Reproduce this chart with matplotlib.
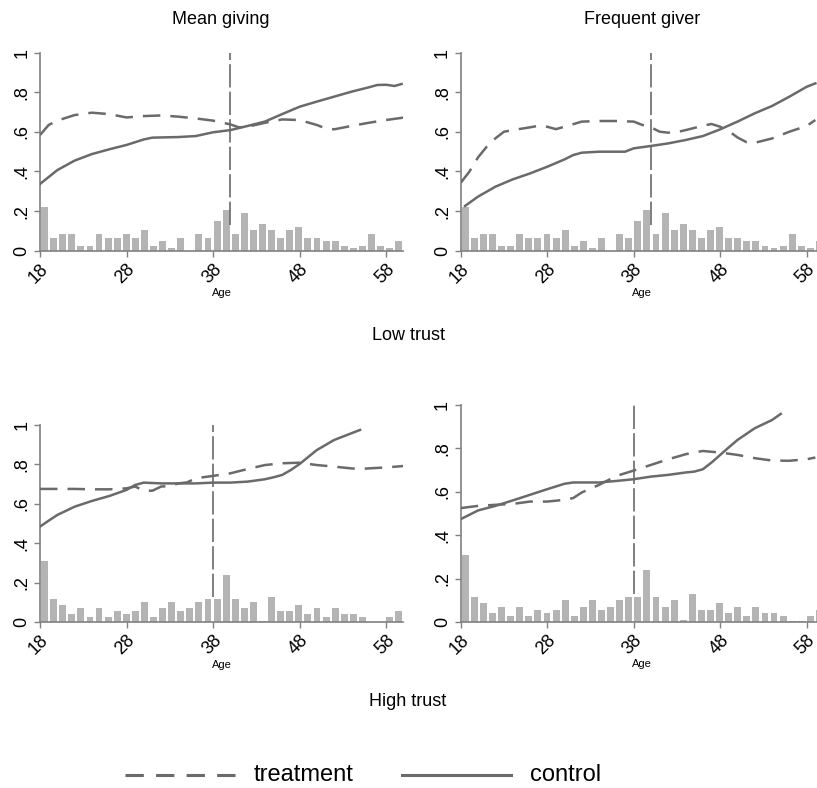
import matplotlib.pyplot as plt
import numpy as np

plt.rcParams['font.family'] = ['Liberation Sans', 'DejaVu Sans']

# age histogram (40 bins over 18-60), share of sample
hist_low = [0.222, 0.066, 0.084, 0.084, 0.025, 0.025, 0.084, 0.066, 0.066, 0.084,
            0.066, 0.103, 0.025, 0.05, 0.015, 0.066, 0.0, 0.084, 0.066, 0.152,
            0.204, 0.084, 0.19, 0.103, 0.135, 0.103, 0.066, 0.103, 0.118, 0.066,
            0.066, 0.05, 0.05, 0.025, 0.015, 0.025, 0.084, 0.025, 0.015, 0.05]
hist_high = [0.31, 0.117, 0.086, 0.042, 0.071, 0.027, 0.071, 0.027, 0.057, 0.042,
             0.057, 0.103, 0.027, 0.071, 0.103, 0.057, 0.071, 0.103, 0.117, 0.117,
             0.24, 0.117, 0.071, 0.103, 0.008, 0.13, 0.057, 0.057, 0.086, 0.042,
             0.071, 0.027, 0.071, 0.042, 0.042, 0.027, 0.003, 0.003, 0.027, 0.057]

# Low trust, mean giving
tl_ctrl_age = [18, 20, 22, 24, 26, 28, 30, 31, 34, 36, 38, 40, 42, 44, 46, 48, 50, 52, 54, 56, 57, 58, 59, 59.8]
tl_ctrl = [0.337, 0.407, 0.455, 0.488, 0.512, 0.534, 0.562, 0.571, 0.574, 0.579, 0.598, 0.609,
           0.63, 0.652, 0.69, 0.727, 0.753, 0.778, 0.803, 0.825, 0.837, 0.838, 0.832, 0.842]
tl_treat_age = [18, 19, 20, 22, 24, 26, 28, 30, 32, 34, 36, 38, 40, 41, 42, 44, 46, 48, 50, 51, 52, 54, 56, 58, 60]
tl_treat = [0.584, 0.635, 0.657, 0.685, 0.697, 0.69, 0.673, 0.68, 0.683, 0.677, 0.668, 0.657,
            0.638, 0.623, 0.626, 0.646, 0.663, 0.66, 0.635, 0.618, 0.613, 0.63, 0.646, 0.66, 0.672]

# Low trust, frequent giver
tr_ctrl_age = [18.5, 20, 22, 24, 26, 28, 30, 31, 32, 34, 36, 37, 38, 40, 42, 44, 46, 48, 50, 52, 54, 56, 58, 59]
tr_ctrl = [0.226, 0.273, 0.323, 0.36, 0.39, 0.424, 0.461, 0.483, 0.495, 0.5, 0.5, 0.5, 0.517,
           0.529, 0.542, 0.559, 0.579, 0.613, 0.652, 0.694, 0.731, 0.778, 0.828, 0.845]
tr_treat_age = [18, 19, 20, 21, 22, 23, 24, 26, 27, 28, 29, 30, 32, 34, 36, 38, 39, 40, 41, 42,
                43, 44, 46, 47, 48, 49, 50, 51, 52, 54, 56, 58, 59]
tr_treat = [0.343, 0.399, 0.471, 0.525, 0.567, 0.601, 0.609, 0.623, 0.631, 0.626, 0.614, 0.626,
            0.652, 0.655, 0.655, 0.652, 0.635, 0.623, 0.601, 0.596, 0.599, 0.609, 0.631, 0.64,
            0.626, 0.604, 0.572, 0.549, 0.545, 0.567, 0.601, 0.63, 0.66]

# High trust, mean giving
bl_ctrl_age = [18, 19, 20, 22, 24, 26, 28, 29, 30, 32, 34, 36, 38, 40, 42, 44, 45, 46, 47, 48, 50, 52, 54, 55]
bl_ctrl = [0.485, 0.515, 0.544, 0.586, 0.615, 0.64, 0.671, 0.696, 0.708, 0.704, 0.704, 0.704,
           0.708, 0.708, 0.713, 0.725, 0.735, 0.747, 0.772, 0.802, 0.873, 0.924, 0.958, 0.975]
bl_treat_age = [18, 20, 22, 24, 26, 28, 29, 30, 31, 32, 33, 34, 35, 36, 38, 40, 42, 44, 46, 48,
                50, 52, 54, 55, 56, 58, 60]
bl_treat = [0.676, 0.676, 0.676, 0.674, 0.674, 0.679, 0.688, 0.667, 0.667, 0.688, 0.691, 0.704,
            0.709, 0.73, 0.742, 0.755, 0.777, 0.797, 0.806, 0.809, 0.797, 0.789, 0.78, 0.777,
            0.78, 0.785, 0.792]

# High trust, frequent giver
br_ctrl_age = [18, 19, 20, 22, 24, 26, 28, 30, 31, 32, 34, 36, 38, 40, 42, 44, 45, 46, 47, 48, 49, 50, 52, 54, 55]
br_ctrl = [0.474, 0.494, 0.514, 0.535, 0.56, 0.586, 0.612, 0.637, 0.643, 0.643, 0.643, 0.65,
           0.658, 0.67, 0.678, 0.689, 0.693, 0.704, 0.735, 0.77, 0.805, 0.839, 0.893, 0.931, 0.959]
br_treat_age = [18, 20, 22, 24, 26, 28, 30, 31, 32, 34, 36, 38, 40, 42, 44, 45, 46, 48, 50, 52, 54, 56, 58, 59]
br_treat = [0.525, 0.535, 0.54, 0.544, 0.555, 0.555, 0.563, 0.571, 0.597, 0.632, 0.673, 0.698,
            0.724, 0.75, 0.773, 0.782, 0.788, 0.781, 0.77, 0.755, 0.744, 0.743, 0.75, 0.758]

cutoff = [40, 40, 38, 38]
titles = ['Mean giving', 'Frequent giver', '', '']

line_col = '#6a6a6a'
bar_col = '#b4b4b4'
axis_col = '#808080'

fig = plt.figure(figsize=(8.17, 7.88), dpi=100)
W, H = 817, 788


def make_ax(x0, y_top, y_bot, x1):
    return fig.add_axes([x0 / W, 1 - y_bot / H, (x1 - x0) / W, (y_bot - y_top) / H])


axes = [make_ax(40, 52.7, 250.7, 403.3),
        make_ax(460.7, 52.7, 250.7, 824),
        make_ax(40, 425, 622.3, 403.3),
        make_ax(460.7, 405, 622, 824)]

panels = [(hist_low, tl_ctrl_age, tl_ctrl, tl_treat_age, tl_treat),
          (hist_low, tr_ctrl_age, tr_ctrl, tr_treat_age, tr_treat),
          (hist_high, bl_ctrl_age, bl_ctrl, bl_treat_age, bl_treat),
          (hist_high, br_ctrl_age, br_ctrl, br_treat_age, br_treat)]

edges = np.linspace(18, 60, 41)
bw = edges[1] - edges[0]

for i, ax in enumerate(axes):
    hist, ca, cv, ta, tv = panels[i]
    ax.bar(edges[:-1] + bw * 0.12, hist, width=bw * 0.76, align='edge', color=bar_col, zorder=1)
    ax.plot(ca, cv, color=line_col, lw=1.8, zorder=3)
    ax.plot(ta, tv, color=line_col, lw=1.8, dashes=(7, 4), zorder=3)
    ax.vlines(cutoff[i], 0.13, 1.0, color=line_col, lw=1.2, linestyles=(0, (14, 2.5)), zorder=2)
    ax.set_xlim(18, 60)
    ax.set_ylim(0, 1)
    ax.set_xticks([18, 28, 38, 48, 58])
    ax.set_yticks([0, 0.2, 0.4, 0.6, 0.8, 1])
    ax.set_yticklabels(['0', '.2', '.4', '.6', '.8', '1'], rotation=90, va='center')
    for lab in ax.get_xticklabels():
        lab.set_rotation(45)
        lab.set_ha('right')
        lab.set_va('top')
        lab.set_rotation_mode('anchor')
    ax.tick_params(labelsize=13, color=axis_col, length=4, width=1, pad=3)
    for s in ['top', 'right']:
        ax.spines[s].set_visible(False)
    for s in ['left', 'bottom']:
        ax.spines[s].set_color(axis_col)
        ax.spines[s].set_linewidth(1.2)
    ax.set_xlabel('Age', fontsize=8, labelpad=1)
    ax.patch.set_alpha(0)

fig.text(221 / W, 1 - 20 / H, titles[0], ha='center', va='center', fontsize=13)
fig.text(642 / W, 1 - 20 / H, titles[1], ha='center', va='center', fontsize=13)
fig.text(408 / W, 1 - 335 / H, 'Low trust', ha='center', va='center', fontsize=13)
fig.text(408 / W, 1 - 702 / H, 'High trust', ha='center', va='center', fontsize=13)

# legend
ly = 1 - 775 / H
fig.lines.append(plt.Line2D([125 / W, 236 / W], [ly, ly], transform=fig.transFigure,
                            color=line_col, lw=2.2, dashes=(6, 4)))
fig.text(254 / W, ly, 'treatment', ha='left', va='center', fontsize=17)
fig.lines.append(plt.Line2D([402 / W, 511 / W], [ly, ly], transform=fig.transFigure,
                            color=line_col, lw=2.2))
fig.text(530 / W, ly, 'control', ha='left', va='center', fontsize=17)

fig.savefig('out.png', dpi=100)
